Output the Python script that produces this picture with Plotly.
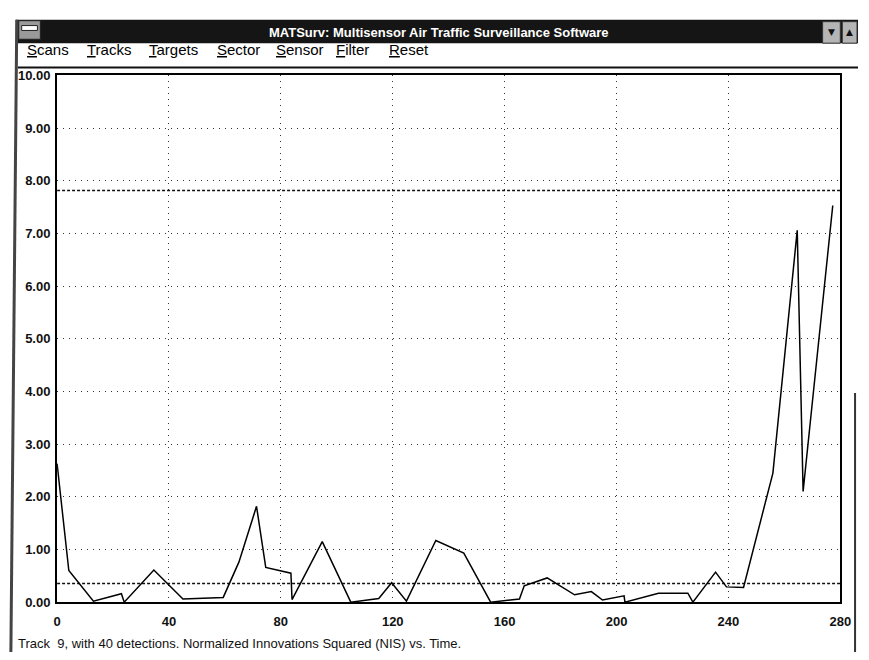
import plotly.graph_objects as go

W, H = 869, 660

# ---- data ----
time_s = [0, 4.2, 13, 23, 24, 34.6, 45, 59.4, 65, 71.3, 74.6, 83.6, 84, 94.8, 105,
          115, 119.6, 124.9, 135.4, 145.4, 155, 165.3, 167, 175.2, 185, 191, 195,
          202.7, 203, 215, 225.5, 227.3, 235.4, 239.3, 245.4, 255.9, 264.6, 266.7, 277.3]
nis = [2.63, 0.6, 0.02, 0.16, 0.0, 0.61, 0.06, 0.09, 0.76, 1.82, 0.66, 0.55, 0.05, 1.15, 0.0,
       0.07, 0.37, 0.02, 1.17, 0.93, 0.0, 0.06, 0.31, 0.46, 0.14, 0.2, 0.04,
       0.12, 0.0, 0.17, 0.17, 0.0, 0.57, 0.29, 0.28, 2.45, 7.06, 2.1, 7.53]
chi_lower = 0.352
chi_upper = 7.815
x_ticks = [0, 40, 80, 120, 160, 200, 240, 280]
y_ticks = [0, 1, 2, 3, 4, 5, 6, 7, 8, 9, 10]
menu_items = ["Scans", "Tracks", "Targets", "Sector", "Sensor", "Filter", "Reset"]
menu_x = [21, 82, 146, 215, 275, 336, 390]
window_title = "MATSurv: Multisensor Air Traffic Surveillance Software"
caption = "Track  9, with 40 detections. Normalized Innovations Squared (NIS) vs. Time."

FONT = "Liberation Sans, Arial, sans-serif"


def px(x):
    return x / W


def py(y):
    return 1 - y / H


fig = go.Figure()
fig.add_trace(go.Scatter(x=[0, 280], y=[chi_upper, chi_upper], mode="lines",
                         line=dict(color="#111", width=1.5, dash="3px,2px"), hoverinfo="skip"))
fig.add_trace(go.Scatter(x=[0, 280], y=[chi_lower, chi_lower], mode="lines",
                         line=dict(color="#111", width=1.5, dash="3px,2px"), hoverinfo="skip"))
fig.add_trace(go.Scatter(x=time_s, y=nis, mode="lines",
                         line=dict(color="black", width=1.5)))

shapes = []
annotations = []

# title bar
shapes.append(dict(type="rect", xref="paper", yref="paper", x0=px(12), x1=px(869), y0=py(37), y1=py(13),
                   fillcolor="#151515", line=dict(width=0), layer="above"))
# system box
shapes.append(dict(type="rect", xref="paper", yref="paper", x0=px(15), x1=px(37), y0=py(33), y1=py(14),
                   fillcolor="#9a9a9a", line=dict(color="#222", width=1), layer="above"))
shapes.append(dict(type="rect", xref="paper", yref="paper", x0=px(18), x1=px(34), y0=py(24), y1=py(19),
                   fillcolor="white", line=dict(color="#222", width=1), layer="above"))
# right buttons
for x0, x1, sym in [(833, 851, "▼"), (853, 868, "▲")]:
    shapes.append(dict(type="rect", xref="paper", yref="paper", x0=px(x0), x1=px(x1), y0=py(37), y1=py(15),
                       fillcolor="#b5b5b5", line=dict(color="#333", width=1), layer="above"))
    annotations.append(dict(x=px((x0 + x1) / 2), y=py(26), xref="paper", yref="paper", text=sym,
                            xanchor="center", yanchor="middle",
                            showarrow=False, font=dict(family="DejaVu Sans", size=9, color="#111")))
annotations.append(dict(x=px(618), y=py(26), xref="paper", yref="paper", xanchor="right", yanchor="middle",
                        text="<b>" + window_title + "</b>", showarrow=False,
                        font=dict(family=FONT, size=13, color="white")))
# menu
for name, mx in zip(menu_items, menu_x):
    annotations.append(dict(x=px(mx), y=py(44), xref="paper", yref="paper", xanchor="left", yanchor="middle",
                            text="<u>" + name[0] + "</u>" + name[1:], showarrow=False,
                            font=dict(family=FONT, size=15, color="#000")))
shapes.append(dict(type="line", xref="paper", yref="paper", x0=px(14), x1=px(869), y0=py(62), y1=py(62),
                   line=dict(color="#111", width=2)))
# window borders
shapes.append(dict(type="line", xref="paper", yref="paper", x0=px(13), x1=px(7), y0=py(13), y1=py(660),
                   line=dict(color="#444", width=3)))
shapes.append(dict(type="line", xref="paper", yref="paper", x0=px(866), x1=px(866), y0=py(395), y1=py(660),
                   line=dict(color="#333", width=2)))
# caption
annotations.append(dict(x=px(12), y=py(651), xref="paper", yref="paper", xanchor="left", yanchor="middle",
                        text=caption, showarrow=False, font=dict(family=FONT, size=13, color="#111")))

fig.update_layout(
    width=W, height=H, margin=dict(l=0, r=0, t=0, b=0),
    paper_bgcolor="white", plot_bgcolor="white", showlegend=False,
    shapes=shapes, annotations=annotations,
    xaxis=dict(domain=[px(54), px(851)], range=[0, 280], tickvals=x_ticks,
               ticktext=["<b>%d</b>" % v for v in x_ticks],
               tickfont=dict(family=FONT, size=13, color="#111"), ticks="", ticklabelstandoff=6,
               showgrid=True, gridcolor="#333", gridwidth=1, griddash="1px,5px",
               showline=True, mirror=True, linecolor="black", linewidth=2, zeroline=False),
    yaxis=dict(domain=[py(609), py(70)], range=[0, 10], tickvals=y_ticks,
               ticktext=["<b>%.2f</b>" % v for v in y_ticks],
               tickfont=dict(family=FONT, size=13, color="#111"), ticks="", ticklabelstandoff=2,
               showgrid=True, gridcolor="#333", gridwidth=1, griddash="1px,5px",
               showline=True, mirror=True, linecolor="black", linewidth=2, zeroline=False),
)

fig.write_html("out.html", config={"displayModeBar": False},
               post_script="document.body.style.margin='0';document.body.style.overflow='hidden';")
